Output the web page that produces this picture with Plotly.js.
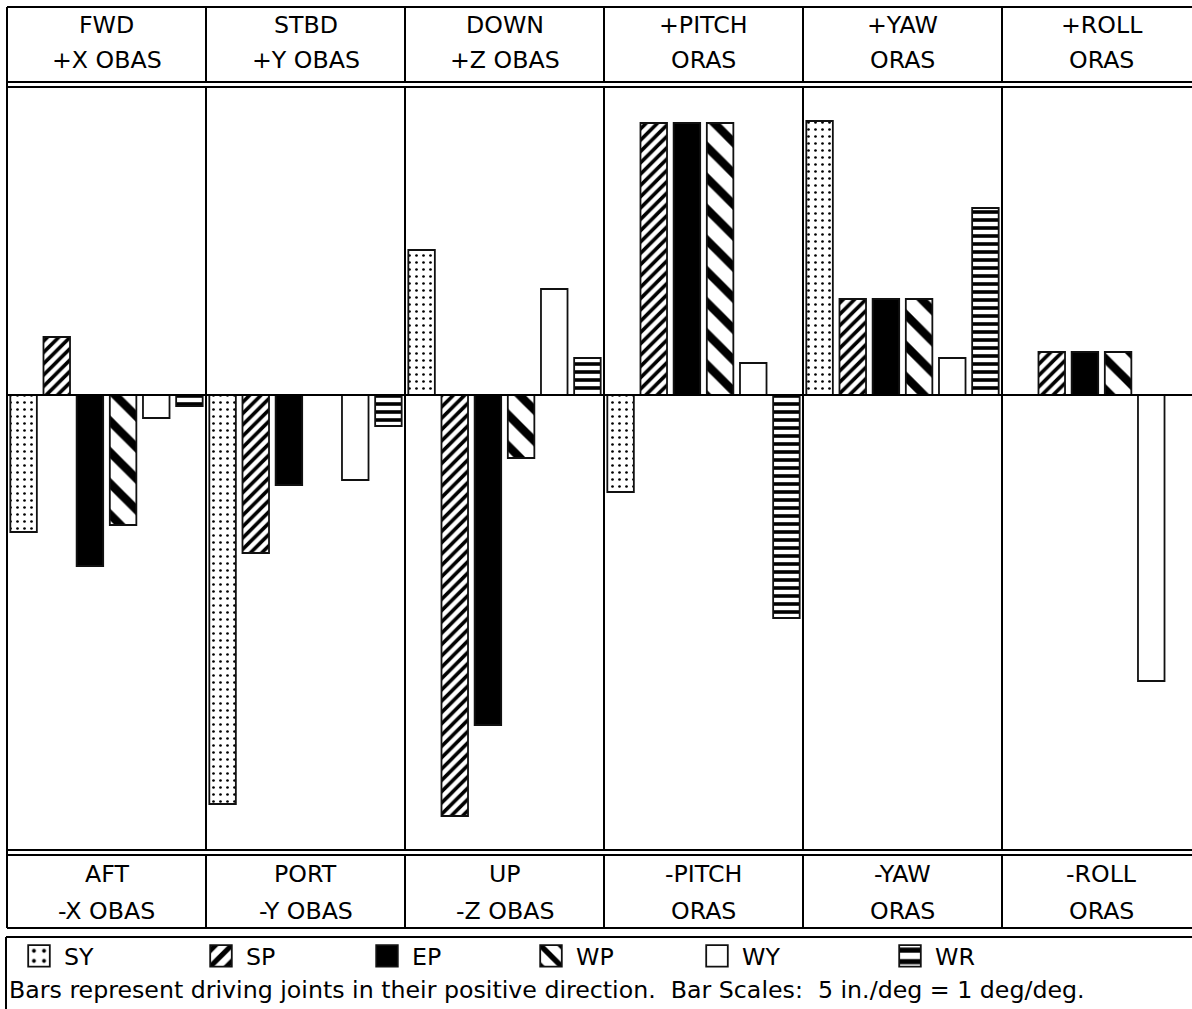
<!DOCTYPE html>
<html><head><meta charset="utf-8">
<script src="https://cdn.plot.ly/plotly-3.0.1.min.js"></script>
<style>html,body{margin:0;padding:0;background:#fff;overflow:hidden}#chart{width:1192px;height:1009px;}</style>
</head><body><div id="chart"></div>
<script>
// ---- data ----
const categories = ['FWD', 'STBD', 'DOWN', '+PITCH', '+YAW', '+ROLL'];
const topSubLabels = ['+X OBAS', '+Y OBAS', '+Z OBAS', 'ORAS', 'ORAS', 'ORAS'];
const bottomLabels = ['AFT', 'PORT', 'UP', '-PITCH', '-YAW', '-ROLL'];
const bottomSubLabels = ['-X OBAS', '-Y OBAS', '-Z OBAS', 'ORAS', 'ORAS', 'ORAS'];
const seriesNames = ['SY', 'SP', 'EP', 'WP', 'WY', 'WR'];
const SY = [-1.37, -4.09, 1.45, -0.97, 2.74, 0];
const SP = [0.58, -1.58, -4.21, 2.72, 0.96, 0.43];
const EP = [-1.71, -0.90, -3.30, 2.72, 0.96, 0.43];
const WP = [-1.30, 0, -0.63, 2.72, 0.96, 0.43];
const WY = [-0.23, -0.85, 1.06, 0.32, 0.37, -2.86];
const WR = [-0.11, -0.31, 0.37, -2.23, 1.87, 0];
const footnote = 'Bars represent driving joints in their positive direction.\u00a0 Bar Scales:\u00a0 5 in./deg = 1 deg/deg.';

// ---- styles ----
const W = 1192, H = 1009;
const FONT = 'DejaVu Sans, Liberation Sans, Arial, sans-serif';
const FS = 23.7;
const seriesValues = [SY, SP, EP, WP, WY, WR];
const seriesStyle = [
  {color: 'white', pattern: {shape: '.', size: 7, solidity: 0.12, fgcolor: 'black', bgcolor: 'white'}},
  {color: 'white', pattern: {shape: '/', size: 8, solidity: 0.45, fgcolor: 'black', bgcolor: 'white'}},
  {color: 'black', pattern: {shape: ''}},
  {color: 'white', pattern: {shape: '\\', size: 22, solidity: 0.38, fgcolor: 'black', bgcolor: 'white'}},
  {color: 'white', pattern: {shape: ''}},
  {color: 'white', pattern: {shape: '-', size: 8, solidity: 0.45, fgcolor: 'black', bgcolor: 'white'}}
];
const legendIconCenters = [39, 221, 387, 551, 717, 910];
const legendY = 956;

const px = v => v / W;
const py = v => 1 - v / H;

const traces = seriesNames.map((name, i) => ({
  type: 'bar',
  name: name,
  x: categories,
  y: seriesValues[i],
  marker: {color: seriesStyle[i].color, pattern: seriesStyle[i].pattern, line: {color: '#111', width: 1.8}},
  legend: i === 0 ? 'legend' : 'legend' + (i + 1),
  showlegend: true,
  hoverinfo: 'skip'
}));

const line = {color: 'black', width: 2};
const shapes = [];
function hline(y, x0, x1) { shapes.push({type: 'line', xref: 'paper', yref: 'paper', x0: px(x0), x1: px(x1), y0: py(y), y1: py(y), line}); }
hline(7, 7, 1200);
hline(82, 7, 1200);
hline(87, 7, 1200);
hline(850, 7, 1200);
hline(855, 7, 1200);
hline(928, 7, 1200);
hline(937, 6, 1200);
shapes.push({type: 'line', xref: 'x', yref: 'paper', x0: -0.5, x1: -0.5, y0: py(7), y1: py(928), line});
shapes.push({type: 'line', xref: 'paper', yref: 'paper', x0: px(6), x1: px(6), y0: py(937), y1: py(1015), line});
for (let i = 0; i < categories.length - 1; i++) {
  [[7, 82], [87, 850], [855, 928]].forEach(([a, b]) => {
    shapes.push({type: 'line', xref: 'x', yref: 'paper', x0: i + 0.5, x1: i + 0.5, y0: py(a), y1: py(b), line});
  });
}
shapes.push({type: 'line', xref: 'x', yref: 'y', x0: -0.5, x1: 6, y0: 0, y1: 0, line});

const annotations = [];
categories.forEach((c, i) => {
  const base = {xref: 'x', yref: 'paper', x: c, xanchor: 'center', yanchor: 'middle', showarrow: false, font: {family: FONT, size: FS, color: 'black'}};
  annotations.push(Object.assign({}, base, {text: c, y: py(25)}));
  annotations.push(Object.assign({}, base, {text: topSubLabels[i], y: py(60)}));
  annotations.push(Object.assign({}, base, {text: bottomLabels[i], y: py(874)}));
  annotations.push(Object.assign({}, base, {text: bottomSubLabels[i], y: py(911)}));
});
annotations.push({xref: 'paper', yref: 'paper', x: px(7), y: py(990), xanchor: 'left', yanchor: 'middle', showarrow: false, text: footnote, font: {family: FONT, size: FS, color: 'black'}});

const layout = {
  width: W, height: H,
  margin: {l: 0, r: 0, t: 0, b: 0, pad: 0},
  paper_bgcolor: 'white', plot_bgcolor: 'white',
  barmode: 'group', bargap: 0, bargroupgap: 0.2,
  xaxis: {type: 'category', range: [-0.5 - 7 / 199, -0.5 + (W - 7) / 199], visible: false, fixedrange: true},
  yaxis: {range: [-(H - 395) / 100, 395 / 100], visible: false, zeroline: false, fixedrange: true},
  shapes, annotations,
  font: {family: FONT, size: FS, color: 'black'},
  showlegend: true
};
legendIconCenters.forEach((c, i) => {
  const key = i === 0 ? 'legend' : 'legend' + (i + 1);
  layout[key] = {x: px(c - 25), y: py(legendY), xanchor: 'left', yanchor: 'middle', itemwidth: 40, bgcolor: 'rgba(0,0,0,0)', borderwidth: 0, font: {family: FONT, size: FS, color: 'black'}, itemclick: false, itemdoubleclick: false};
});

Plotly.newPlot('chart', traces, layout, {staticPlot: true, displayModeBar: false}).then(gd => {
  gd.querySelectorAll('.legendpoints path').forEach(p => {
    const t = p.getAttribute('transform') || '';
    p.setAttribute('transform', (t + ' scale(1.8)').trim());
    p.style.vectorEffect = 'non-scaling-stroke';
  });
});
</script>
</body></html>
